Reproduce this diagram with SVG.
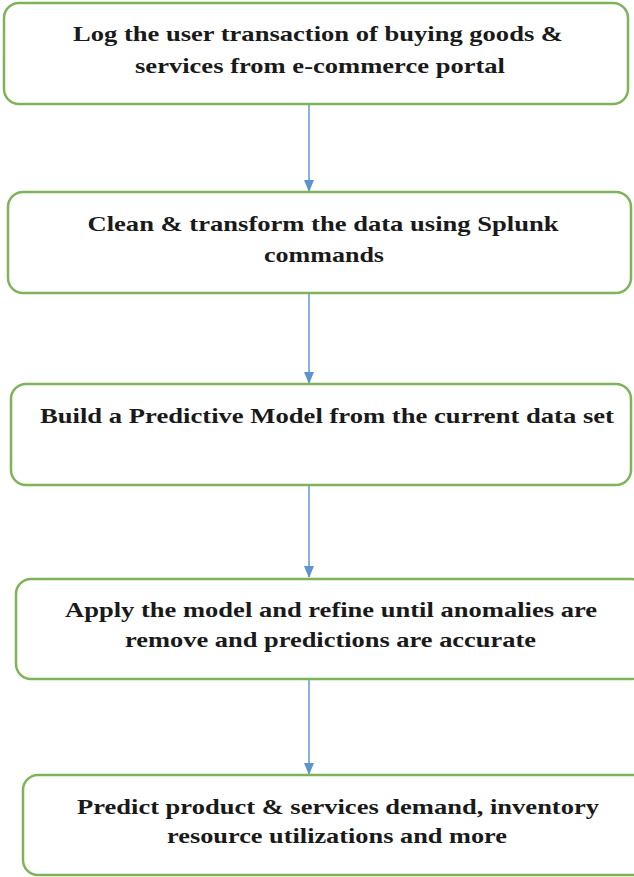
<svg xmlns="http://www.w3.org/2000/svg" width="634" height="877" viewBox="0 0 634 877">
  <style>
    .box { fill: #ffffff; stroke: #7fb35a; stroke-width: 2.5; }
    .lbl { font-family: "Liberation Serif", "Times New Roman", serif; font-weight: bold; font-size: 22px; fill: #1a1a1a; text-anchor: middle; }
    .link { stroke: #6a9fd8; stroke-width: 1.6; fill: none; }
  </style>
  <defs>
    <marker id="arrow" markerWidth="12" markerHeight="10" refX="11" refY="5" orient="auto" markerUnits="userSpaceOnUse">
      <path d="M0,0 L12,5 L0,10 Z" fill="#5b93d3"/>
    </marker>
  </defs>
  <rect width="634" height="877" fill="#ffffff"/>

  <g id="connectors">
    <line class="link" x1="309" y1="104" x2="309" y2="191" marker-end="url(#arrow)"/>
    <line class="link" x1="309" y1="293" x2="309" y2="383" marker-end="url(#arrow)"/>
    <line class="link" x1="309" y1="485" x2="309" y2="577" marker-end="url(#arrow)"/>
    <line class="link" x1="309" y1="679" x2="309" y2="774" marker-end="url(#arrow)"/>
  </g>

  <g id="log-transactions">
    <rect class="box" x="4" y="3" width="624" height="101" rx="15"/>
    <text class="lbl" x="318" y="41" textLength="490" lengthAdjust="spacingAndGlyphs">Log the user transaction of buying goods &amp;</text>
    <text class="lbl" x="320" y="73" textLength="370" lengthAdjust="spacingAndGlyphs">services from e-commerce portal</text>
  </g>

  <g id="clean-transform">
    <rect class="box" x="8" y="192" width="623" height="101" rx="15"/>
    <text class="lbl" x="323" y="231" textLength="471" lengthAdjust="spacingAndGlyphs">Clean &amp; transform the data using Splunk</text>
    <text class="lbl" x="324" y="262" textLength="120" lengthAdjust="spacingAndGlyphs">commands</text>
  </g>

  <g id="build-model">
    <rect class="box" x="11" y="384" width="620" height="101" rx="15"/>
    <text class="lbl" x="327" y="423" textLength="574" lengthAdjust="spacingAndGlyphs">Build a Predictive Model from the current data set</text>
  </g>

  <g id="apply-refine">
    <rect class="box" x="16" y="579" width="630" height="100" rx="15"/>
    <text class="lbl" x="331" y="617" textLength="532" lengthAdjust="spacingAndGlyphs">Apply the model and refine until anomalies are</text>
    <text class="lbl" x="330.5" y="647" textLength="411" lengthAdjust="spacingAndGlyphs">remove and predictions are accurate</text>
  </g>

  <g id="predict-demand">
    <rect class="box" x="23" y="775" width="630" height="100" rx="15"/>
    <text class="lbl" x="338" y="814" textLength="522" lengthAdjust="spacingAndGlyphs">Predict product &amp; services demand, inventory</text>
    <text class="lbl" x="337" y="843" textLength="340" lengthAdjust="spacingAndGlyphs">resource utilizations and more</text>
  </g>
</svg>
